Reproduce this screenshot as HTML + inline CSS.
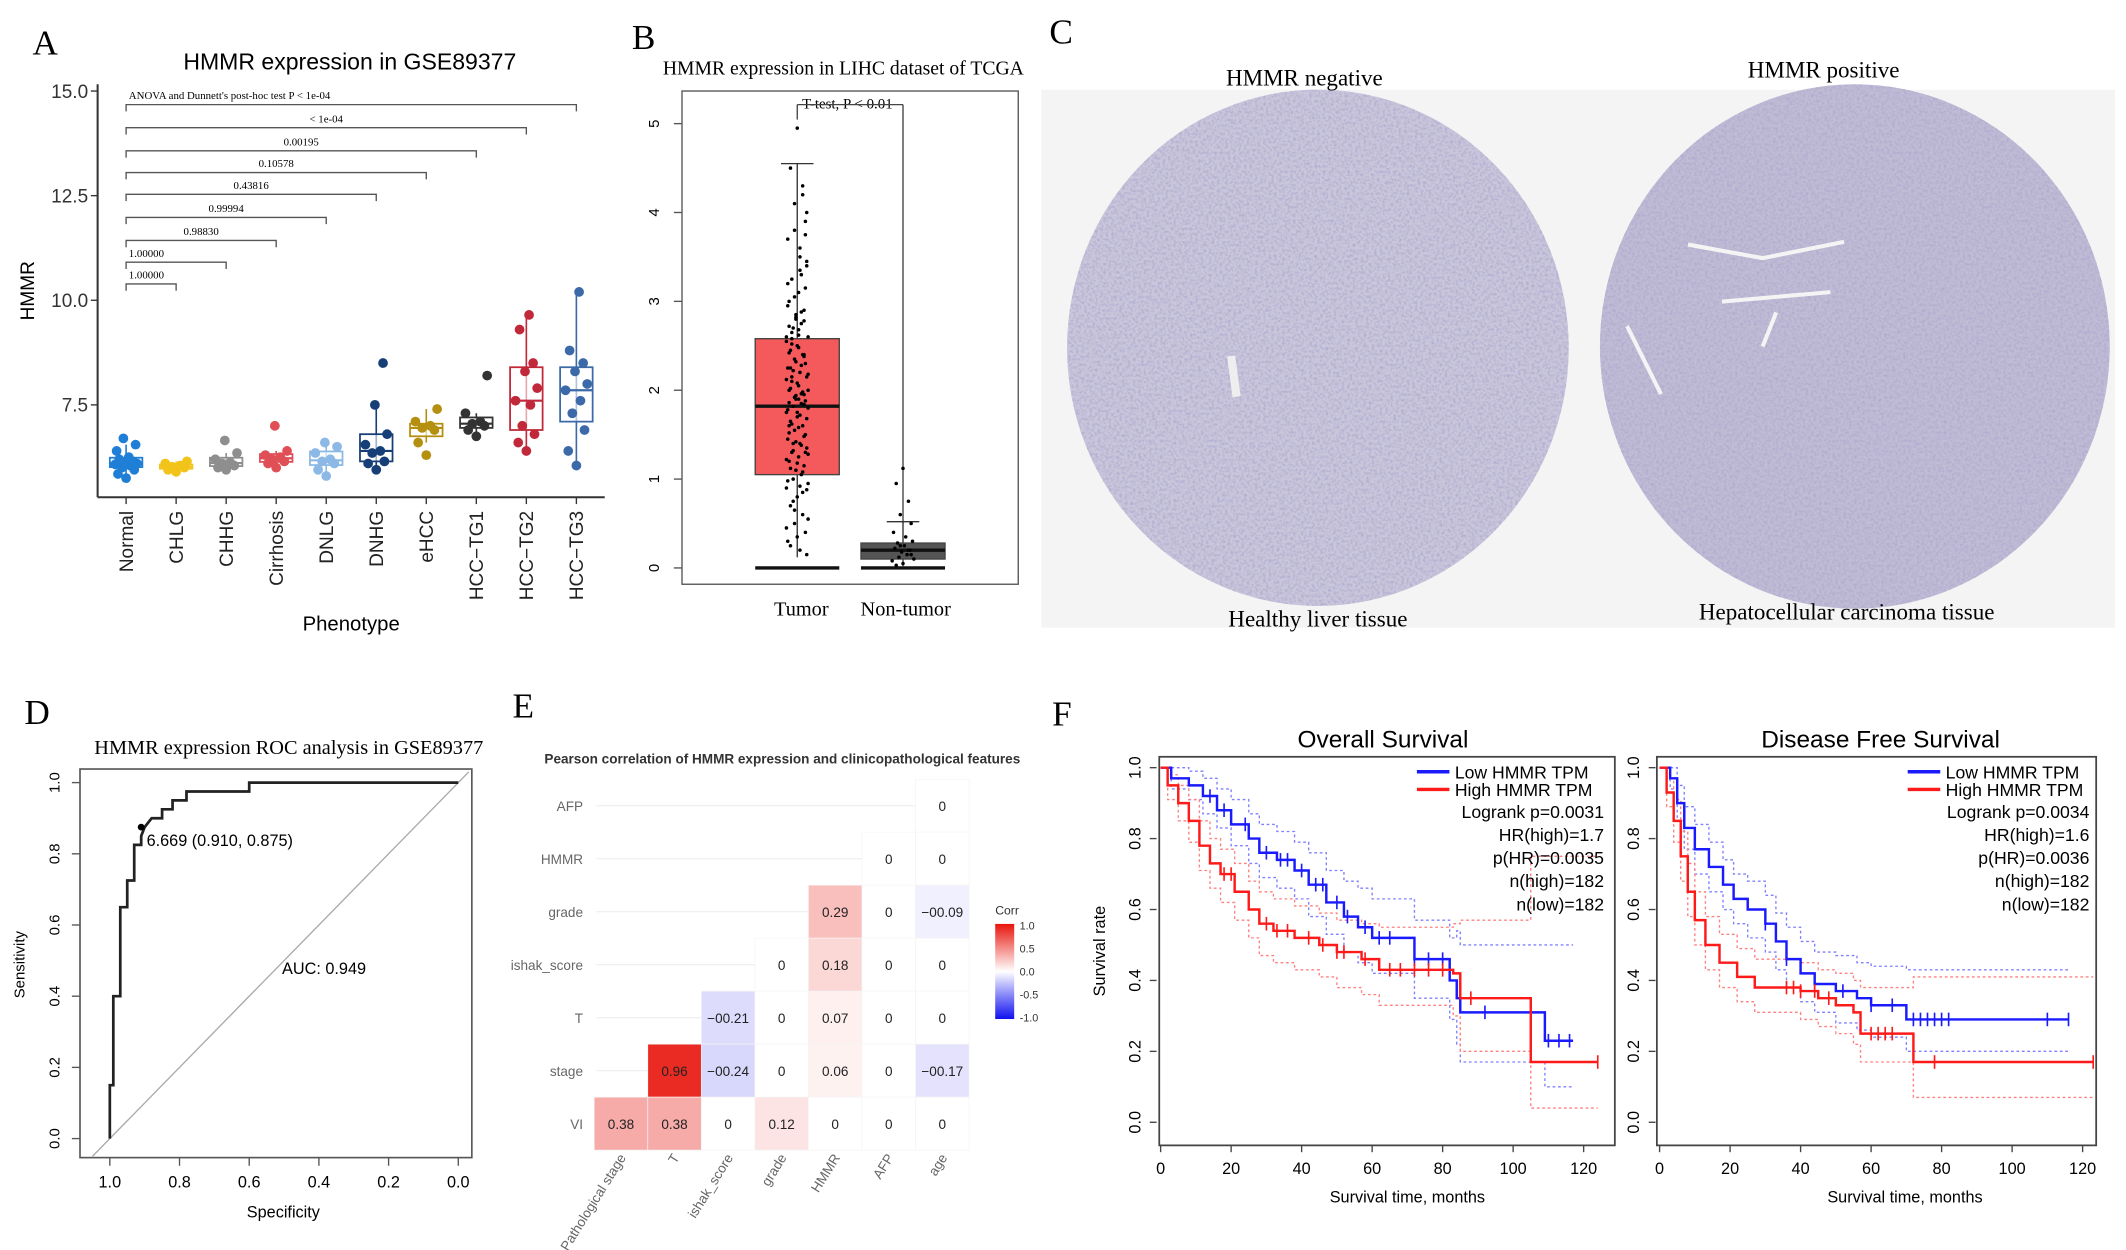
<!DOCTYPE html>
<html><head><meta charset="utf-8"><style>
html,body{margin:0;padding:0;background:#fff;}
svg{display:block;}
.s{font-family:"Liberation Sans",sans-serif;}
.r{font-family:"Liberation Serif",serif;}
</style></head><body>
<svg id="fig" width="2126" height="1250" viewBox="0 0 1568 920" preserveAspectRatio="none" xmlns="http://www.w3.org/2000/svg">
<defs>
<filter id="tex" x="0" y="0" width="100%" height="100%">
<feTurbulence type="fractalNoise" baseFrequency="0.5" numOctaves="2" seed="3"/>
<feColorMatrix type="matrix" values="0 0 0 0 0.42  0 0 0 0 0.40  0 0 0 0 0.62  0 0 0 -2.2 1.35"/>
</filter>
<clipPath id="c1"><ellipse cx="972" cy="256" rx="185" ry="190"/></clipPath>
<clipPath id="c2"><ellipse cx="1368" cy="255" rx="188" ry="193"/></clipPath>
<linearGradient id="cbar" x1="0" y1="0" x2="0" y2="1">
<stop offset="0" stop-color="#e8140c"/><stop offset="0.5" stop-color="#ffffff"/><stop offset="1" stop-color="#1010f0"/>
</linearGradient>
</defs>

<text class="r" x="24" y="40" font-size="26">A</text>
<text class="r" x="466" y="36" font-size="26">B</text>
<text class="r" x="774" y="32" font-size="26">C</text>
<text class="r" x="18" y="533" font-size="26">D</text>
<text class="r" x="378" y="528" font-size="26">E</text>
<text class="r" x="776" y="534" font-size="26">F</text>

<g id="pa">
<text class="s" x="258" y="51" font-size="17" text-anchor="middle">HMMR expression in GSE89377</text>
<line x1="72" y1="62" x2="72" y2="366" stroke="#333" stroke-width="1.5"/>
<line x1="72" y1="366" x2="446" y2="366" stroke="#333" stroke-width="1.5"/>
<text class="s" x="25" y="214" font-size="14" text-anchor="middle" transform="rotate(-90 25 214)">HMMR</text>
<text class="s" x="259" y="464" font-size="15" text-anchor="middle">Phenotype</text>
<text class="r" x="95" y="73" font-size="8">ANOVA and Dunnett's post-hoc test P  &lt; 1e-04</text>
</g>

<g id="pb">
<text class="r" x="622" y="55" font-size="14.5" text-anchor="middle">HMMR expression in LIHC dataset of TCGA</text>
<rect x="503" y="67" width="248" height="363" fill="none" stroke="#555" stroke-width="1"/>
<text class="r" x="625" y="80" font-size="11" text-anchor="middle">T-test, P &lt; 0.01</text>
<line x1="588" y1="77" x2="588" y2="88" stroke="#444"/>
<line x1="588" y1="77" x2="666" y2="77" stroke="#444"/>
<line x1="666" y1="77" x2="666" y2="385" stroke="#444"/>
<text class="r" x="591" y="453" font-size="15" text-anchor="middle">Tumor</text>
<text class="r" x="668" y="453" font-size="15" text-anchor="middle">Non-tumor</text>
</g>

<g id="pc">
<rect x="768" y="66" width="792" height="396" fill="#f4f4f4"/>
<ellipse cx="972" cy="256" rx="185" ry="190" fill="#cac7dc"/>
<rect x="787" y="66" width="370" height="380" filter="url(#tex)" clip-path="url(#c1)" opacity="0.9"/>
<ellipse cx="1368" cy="255" rx="188" ry="193" fill="#c0bcd5"/>
<rect x="1180" y="62" width="376" height="386" filter="url(#tex)" clip-path="url(#c2)" opacity="0.95"/>
<path d="M1245 180 L1300 190 L1360 178 M1270 222 L1350 215 M1200 240 L1225 290 M1310 230 L1300 255" stroke="#f4f4f4" stroke-width="3" fill="none"/>
<path d="M908 262 L912 292" stroke="#eee" stroke-width="6"/>
<text class="r" x="962" y="63" font-size="17" text-anchor="middle">HMMR negative</text>
<text class="r" x="1345" y="57" font-size="17" text-anchor="middle">HMMR positive</text>
<text class="r" x="972" y="461" font-size="17" text-anchor="middle">Healthy liver tissue</text>
<text class="r" x="1362" y="456" font-size="17" text-anchor="middle">Hepatocellular carcinoma tissue</text>
</g>

<g id="pd">
<text class="r" x="213" y="555" font-size="15" text-anchor="middle">HMMR expression ROC analysis in GSE89377</text>
<rect x="59" y="566" width="289" height="286" fill="none" stroke="#555" stroke-width="1.2"/>
<text class="s" x="18" y="710" font-size="11" text-anchor="middle" transform="rotate(-90 18 710)">Sensitivity</text>
<text class="s" x="209" y="896" font-size="12" text-anchor="middle">Specificity</text>
</g>

<g id="pe">
<text class="s" x="577" y="562" font-size="10" font-weight="bold" text-anchor="middle" fill="#333">Pearson correlation of HMMR expression and clinicopathological features</text>
<text class="s" x="734" y="673" font-size="9" fill="#333">Corr</text>
<rect x="734" y="680" width="14" height="70" fill="url(#cbar)"/>
</g>

<g id="pf">
<text class="s" x="1020" y="550" font-size="18" text-anchor="middle">Overall Survival</text>
<text class="s" x="1387" y="550" font-size="18" text-anchor="middle">Disease Free Survival</text>
<rect x="855" y="557" width="336" height="286" fill="none" stroke="#444" stroke-width="1.3"/>
<rect x="1222" y="557" width="324" height="286" fill="none" stroke="#444" stroke-width="1.3"/>
<text class="s" x="815" y="700" font-size="12" text-anchor="middle" transform="rotate(-90 815 700)">Survival rate</text>
<text class="s" x="1038" y="885" font-size="12" text-anchor="middle">Survival time, months</text>
<text class="s" x="1405" y="885" font-size="12" text-anchor="middle">Survival time, months</text>
</g>
</svg>

<script>
const NS='http://www.w3.org/2000/svg';
const svg=document.getElementById('fig');
function mk(tag,attrs,parent){const e=document.createElementNS(NS,tag);for(const k in attrs)e.setAttribute(k,attrs[k]);(parent||svg).appendChild(e);return e;}

// ---------- Panel A data ----------
const aCategories=['Normal','CHLG','CHHG','Cirrhosis','DNLG','DNHG','eHCC','HCC\u2212TG1','HCC\u2212TG2','HCC\u2212TG3'];
const aColors=['#1f7fd6','#f2c318','#8e8e8e','#df4f55','#8cb8e6','#173f77','#b48f10','#333333','#c1283a','#3c6aa8'];
const aNormal=[5.75,5.85,5.95,6.0,6.05,6.08,6.1,6.12,6.15,6.2,6.25,6.4,6.55,6.7];
const aCHLG=[5.9,5.95,6.0,6.02,6.05,6.1,6.15];
const aCHHG=[5.95,6.0,6.05,6.1,6.12,6.2,6.35,6.65];
const aCirrhosis=[6.0,6.1,6.15,6.2,6.25,6.3,6.4,7.0];
const aDNLG=[5.8,5.95,6.1,6.15,6.2,6.35,6.5,6.6];
const aDNHG=[5.95,6.1,6.15,6.35,6.4,6.55,6.8,7.5,8.5];
const aEHCC=[6.3,6.6,6.9,6.95,7.0,7.1,7.4];
const aTG1=[6.75,6.9,7.0,7.05,7.1,7.3,8.2];
const aTG2=[6.4,6.6,6.8,7.0,7.5,7.6,7.9,8.3,8.5,9.3,9.65];
const aTG3=[6.05,6.4,6.9,7.3,7.6,7.85,8.0,8.3,8.5,8.8,10.2];
const aGroups=[aNormal,aCHLG,aCHHG,aCirrhosis,aDNLG,aDNHG,aEHCC,aTG1,aTG2,aTG3];
const aYTicks=[7.5,10.0,12.5,15.0];
const aPvalues=['1.00000','1.00000','0.98830','0.99994','0.43816','0.10578','0.00195','< 1e-04'];

const yA=v=>298-(v-7.5)*30.8;
const xA=i=>93+i*36.9;
function q(arr,p){const s=[...arr].sort((a,b)=>a-b);const i=(s.length-1)*p;const lo=Math.floor(i),hi=Math.ceil(i);return s[lo]+(s[hi]-s[lo])*(i-lo);}
const pa=document.getElementById('pa');
aYTicks.forEach(t=>{
 const l=mk('line',{x1:67,x2:72,y1:yA(t),y2:yA(t),stroke:'#333'},pa);
 
 
 const tx=mk('text',{x:65,y:yA(t)+5,'font-size':14,'text-anchor':'end',class:'s',fill:'#333'},pa);tx.textContent=t.toFixed(1);
 
 
});
const jit=[0,-6,6,-3,3,-8,8,-1,5,-5,2,-7,7,-2];
aGroups.forEach((g,i)=>{
 const cx=xA(i),col=aColors[i];
 const q1=q(g,0.25),q2=q(g,0.5),q3=q(g,0.75),iqr=q3-q1;
 const lo=Math.min(...g.filter(v=>v>=q1-1.5*iqr)),hi=Math.max(...g.filter(v=>v<=q3+1.5*iqr));
 const t=mk('line',{x1:cx,x2:cx,y1:366,y2:371,stroke:'#333'},pa);
 
 
 const w=mk('line',{x1:cx,x2:cx,y1:yA(hi),y2:yA(lo),stroke:col,'stroke-width':1.2},pa);
 
 
 const b=mk('rect',{x:cx-12,y:yA(q3),width:24,height:Math.max(1,yA(q1)-yA(q3)),fill:'#fff','fill-opacity':0.6,stroke:col,'stroke-width':1.3},pa);
 
 
 const m=mk('line',{x1:cx-12,x2:cx+12,y1:yA(q2),y2:yA(q2),stroke:col,'stroke-width':1.6},pa);
 
 
 g.forEach((v,k)=>{
  const c=mk('circle',{cx:cx+jit[k%jit.length],cy:yA(v),r:3.6,fill:col},pa);
  
  
 });
 const lb=mk('text',{x:cx+5,y:376,'font-size':14,'text-anchor':'end',class:'s',fill:'#222',transform:`rotate(-90 ${cx+5} 376)`},pa);
 lb.textContent=aCategories[i];
 
 
});
const brY=[209,193,177,160,143,127,111,94,77];
for(let j=1;j<aCategories.length;j++){
 const y=brY[j-1],x2=xA(j);
 const p=mk('path',{d:`M93 ${y+5} V${y} H${x2} V${y+5}`,fill:'none',stroke:'#555','stroke-width':1},pa);
 
 
 if(j<=aPvalues.length){
  const tx=mk('text',{x:j<=2?95:(93+x2)/2,y:y-4,'font-size':8,class:'r','text-anchor':j<=2?'start':'middle'},pa);
  tx.textContent=aPvalues[j-1];
  
  
 }
}

// ---------- Panel B data ----------
const bTicks=[0,1,2,3,4,5];
const bTumorStats=[0.12,1.05,1.82,2.58,4.55];
const bNormalStats=[0.02,0.1,0.2,0.28,0.52];
const bTumorPts=[4.95,4.5,4.3,4.1,3.9,3.7,3.5,3.4,3.25,3.1,3.0,2.9,2.85,2.75,2.7,2.6,2.55,2.5,2.45,2.4,2.35,2.3,2.25,2.2,2.15,2.1,2.05,2.0,1.95,1.9,1.85,1.82,1.8,1.75,1.7,1.65,1.6,1.55,1.5,1.45,1.4,1.35,1.3,1.25,1.2,1.15,1.1,1.05,1.0,0.95,0.9,0.8,0.7,0.6,0.5,0.4,0.3,0.2,0.15,2.15,1.9,1.6,2.4,2.8,3.3,1.4,2.0,2.6,1.75,2.25,0.85,0.65,1.3,2.95,3.6,4.0,
 2.52,2.48,2.42,2.38,2.32,2.28,2.22,2.18,2.12,2.08,2.02,1.98,1.92,1.88,1.78,1.72,1.68,1.62,1.58,1.52,1.48,1.42,1.38,1.32,1.28,1.22,1.18,1.12,1.08,3.05,3.15,3.2,3.35,3.45,2.65,2.68,2.72,2.78,2.82,2.88,0.75,0.55,0.45,0.35,0.25,4.2,3.8,3.75,0.98,0.92,0.88,2.58,2.62,1.86,1.84,1.94,1.96];
const bNormalPts=[1.12,0.95,0.75,0.6,0.5,0.4,0.35,0.3,0.28,0.25,0.22,0.2,0.18,0.15,0.12,0.1,0.08,0.05,0.03,0.2,0.25,0.15];
const yB=v=>418-v*65.4;
const pb=document.getElementById('pb');
bTicks.forEach(t=>{
 const l=mk('line',{x1:497,x2:503,y1:yB(t),y2:yB(t),stroke:'#555'},pb);
 
 
 const tx=mk('text',{x:486,y:yB(t),'font-size':11,'text-anchor':'middle',class:'s',transform:`rotate(-90 486 ${yB(t)})`},pb);tx.textContent=t;
 
 
});
[[bTumorStats,588,'#f4595b','tumor'],[bNormalStats,666,'#555555','non-tumor']].forEach(([s,cx,col,nm])=>{
 const w=mk('line',{x1:cx,x2:cx,y1:yB(s[4]),y2:yB(s[0]),stroke:'#333'},pb);
 
 
 const c1=mk('line',{x1:cx-12,x2:cx+12,y1:yB(s[4]),y2:yB(s[4]),stroke:'#333'},pb);
 
 
 const r=mk('rect',{x:cx-31,y:yB(s[3]),width:62,height:yB(s[1])-yB(s[3]),fill:col,stroke:'#444'},pb);
 
 
 const m=mk('line',{x1:cx-31,x2:cx+31,y1:yB(s[2]),y2:yB(s[2]),stroke:'#111','stroke-width':2.5},pb);
 
 
 const z=mk('line',{x1:cx-31,x2:cx+31,y1:yB(0),y2:yB(0),stroke:'#111','stroke-width':2.5},pb);
 
 
});
const bj=[0,-5,4,-2,6,-7,2,7,-4,1,-6,5,-1,3,-3,8,-8];
bTumorPts.forEach((v,k)=>{const c=mk('circle',{cx:588+bj[k%17],cy:yB(v),r:1.3,fill:'#000'},pb);
 
 });
bNormalPts.forEach((v,k)=>{const c=mk('circle',{cx:666+bj[k%17],cy:yB(v),r:1.3,fill:'#000'},pb);
 
 });

// ---------- Panel D data ----------
const dSpec=[1,1,0.99,0.99,0.97,0.97,0.95,0.95,0.93,0.93,0.91,0.91,0.9,0.88,0.85,0.85,0.82,0.82,0.78,0.78,0.6,0.6,0];
const dSens=[0,0.15,0.15,0.4,0.4,0.65,0.65,0.725,0.725,0.825,0.825,0.85,0.875,0.9,0.9,0.925,0.925,0.95,0.95,0.975,0.975,1,1];
const dTicks=[0,0.2,0.4,0.6,0.8,1.0];
const xD=s=>81+(1-s)*257, yD=v=>838-v*262;
const pd=document.getElementById('pd');
dTicks.forEach(t=>{
 const l=mk('line',{x1:53,x2:59,y1:yD(t),y2:yD(t),stroke:'#555'},pd);
 
 
 const tx=mk('text',{x:44,y:yD(t),'font-size':11,'text-anchor':'middle',class:'s',transform:`rotate(-90 44 ${yD(t)})`},pd);tx.textContent=t.toFixed(1);
 
 
 const l2=mk('line',{x1:xD(t),x2:xD(t),y1:852,y2:858,stroke:'#555'},pd);
 
 
 const tx2=mk('text',{x:xD(t),y:874,'font-size':12,'text-anchor':'middle',class:'s'},pd);tx2.textContent=t.toFixed(1);
 
 
});
const diag=mk('line',{x1:xD(1.05),y1:yD(-0.05),x2:xD(-0.03),y2:yD(1.03),stroke:'#aaa','stroke-width':1},pd);


const roc=mk('polyline',{points:dSpec.map((s,i)=>xD(s)+','+yD(dSens[i])).join(' '),fill:'none',stroke:'#222','stroke-width':2},pd);


const cut=mk('circle',{cx:xD(0.91),cy:yD(0.875),r:2.5,fill:'#000'},pd);


const ct=mk('text',{x:xD(0.91)+4,y:yD(0.875)+14,'font-size':12,class:'s'},pd);ct.textContent='6.669 (0.910, 0.875)';


const auc=mk('text',{x:208,y:717,'font-size':12,class:'s'},pd);auc.textContent='AUC: 0.949';



// ---------- Panel E data ----------
const eCols=['Pathological stage','T','ishak_score','grade','HMMR','AFP','age'];
const eRows=['AFP','HMMR','grade','ishak_score','T','stage','VI'];
const eRowAFP=[null,null,null,null,null,null,0];
const eRowHMMR=[null,null,null,null,null,0,0];
const eRowGrade=[null,null,null,null,0.29,0,-0.09];
const eRowIshak=[null,null,null,0,0.18,0,0];
const eRowT=[null,null,-0.21,0,0.07,0,0];
const eRowStage=[null,0.96,-0.24,0,0.06,0,-0.17];
const eRowVI=[0.38,0.38,0,0.12,0,0,0];
const eValues=[eRowAFP,eRowHMMR,eRowGrade,eRowIshak,eRowT,eRowStage,eRowVI];
const eLegendTicks=[1.0,0.5,0.0,-0.5,-1.0];
const xE=j=>458+j*39.5, yE=i=>593+i*39;
function corrColor(v){
 const mix=(a,b,t)=>Math.round(a+(b-a)*t);
 if(v>=0){const t=v*0.95;return `rgb(${mix(255,232,t)},${mix(255,22,t)},${mix(255,14,t)})`;}
 const t=-v*0.75;return `rgb(${mix(255,40,t)},${mix(255,30,t)},${mix(255,240,t)})`;
}
const pe=document.getElementById('pe');
eRows.forEach((rn,i)=>{
 const gl=mk('line',{x1:440,x2:715,y1:yE(i),y2:yE(i),stroke:'#f0f0f0'},pe);
 
 
 const t=mk('text',{x:430,y:yE(i)+4,'font-size':10,'text-anchor':'end',class:'s',fill:'#666'},pe);t.textContent=rn;
 
 
 eValues[i].forEach((v,j)=>{
  if(v===null)return;
  const r=mk('rect',{x:xE(j)-19.75,y:yE(i)-19.5,width:39.5,height:39,fill:corrColor(v),stroke:'#f4f4f4','stroke-width':0.5},pe);
  
  
  const tx=mk('text',{x:xE(j),y:yE(i)+4,'font-size':10,'text-anchor':'middle',class:'s',fill:'#222'},pe);
  tx.textContent=v===0?'0':String(v).replace('-','\u22120');
  
  
 });
});
eCols.forEach((c,j)=>{
 const x=xE(j)+4,y=852;
 const t=mk('text',{x:x,y:y,'font-size':10,'text-anchor':'end',class:'s',fill:'#666',transform:`rotate(-58 ${x} ${y})`},pe);t.textContent=c;
 
 
});
eLegendTicks.forEach(v=>{
 const y=715-v*34;
 const t=mk('text',{x:752,y:y+3,'font-size':8,class:'s',fill:'#333'},pe);t.textContent=v.toFixed(1);
 
 
});

// ---------- Panel F data ----------
const fTicksX=[0,20,40,60,80,100,120];
const fTicksY=[0,0.2,0.4,0.6,0.8,1.0];
const osLowT=[0,3,8,12,16,20,25,28,33,38,42,47,52,56,60,72,82,84,85,109,117];
const osLowS=[1,0.97,0.95,0.92,0.88,0.84,0.8,0.76,0.74,0.71,0.67,0.62,0.58,0.55,0.52,0.46,0.4,0.35,0.31,0.23,0.23];
const osLowUp=[1,1,0.99,0.97,0.94,0.91,0.87,0.84,0.82,0.79,0.76,0.71,0.68,0.66,0.63,0.57,0.52,0.54,0.5,0.5,0.5];
const osLowLo=[1,0.94,0.91,0.87,0.83,0.78,0.73,0.69,0.66,0.63,0.58,0.53,0.48,0.45,0.42,0.35,0.29,0.22,0.17,0.1,0.1];
const osHighT=[0,2,5,8,11,14,17,21,25,28,32,38,45,50,57,62,83,85,105,124];
const osHighS=[1,0.95,0.9,0.85,0.78,0.73,0.7,0.65,0.6,0.56,0.54,0.52,0.5,0.48,0.46,0.43,0.42,0.35,0.17,0.17];
const osHighUp=[1,0.98,0.95,0.91,0.85,0.8,0.77,0.73,0.68,0.65,0.63,0.61,0.59,0.57,0.56,0.55,0.56,0.57,0.75,0.75];
const osHighLo=[1,0.91,0.85,0.79,0.71,0.66,0.62,0.57,0.52,0.47,0.45,0.43,0.41,0.38,0.36,0.33,0.3,0.2,0.04,0.04];
const osLowCens=[14,18,24,30,34,36,40,44,46,50,53,58,62,65,72,76,80,92,110,113,116];
const osHighCens=[18,20,30,33,36,42,46,50,52,58,65,68,72,76,80,88,124];
const dfsLowT=[0,3,5,7,10,14,18,21,25,30,33,36,40,44,50,56,60,70,116];
const dfsLowS=[1,0.97,0.9,0.83,0.77,0.72,0.67,0.63,0.6,0.56,0.51,0.46,0.42,0.39,0.37,0.35,0.33,0.29,0.29];
const dfsLowUp=[1,1,0.95,0.89,0.84,0.79,0.74,0.7,0.68,0.64,0.59,0.55,0.51,0.48,0.47,0.45,0.44,0.43,0.43];
const dfsLowLo=[1,0.94,0.85,0.77,0.7,0.65,0.6,0.56,0.52,0.48,0.43,0.38,0.34,0.31,0.28,0.26,0.24,0.2,0.2];
const dfsHighT=[0,2,4,6,8,10,13,17,22,27,40,45,50,55,57,72,123];
const dfsHighS=[1,0.93,0.85,0.75,0.65,0.57,0.5,0.45,0.41,0.38,0.37,0.35,0.33,0.31,0.25,0.17,0.17];
const dfsHighUp=[1,0.97,0.91,0.82,0.73,0.65,0.58,0.53,0.49,0.46,0.45,0.43,0.42,0.4,0.38,0.41,0.41];
const dfsHighLo=[1,0.89,0.79,0.68,0.58,0.5,0.43,0.38,0.34,0.31,0.29,0.27,0.25,0.22,0.17,0.07,0.07];
const dfsLowCens=[30,36,44,52,60,66,72,74,76,78,80,82,110,116];
const dfsHighCens=[36,38,40,44,48,60,62,64,66,78,123];
const pf=document.getElementById('pf');
const yF=s=>826-s*261;
function stepAt(T,S,t){let v=S[0];for(let i=0;i<T.length;i++){if(T[i]<=t)v=S[i];}return v;}
function stepPath(T,S,x0){let d=`M${x0+T[0]*2.6} ${yF(S[0])}`;for(let i=1;i<T.length;i++){d+=` H${x0+T[i]*2.6} V${yF(S[i])}`;}return d;}
[['os',856,osLowT,osLowS,osLowUp,osLowLo,osHighT,osHighS,osHighUp,osHighLo,osLowCens,osHighCens,['Logrank p=0.0031','HR(high)=1.7','p(HR)=0.0035','n(high)=182','n(low)=182'],1183,1045],
 ['dfs',1224,dfsLowT,dfsLowS,dfsLowUp,dfsLowLo,dfsHighT,dfsHighS,dfsHighUp,dfsHighLo,dfsLowCens,dfsHighCens,['Logrank p=0.0034','HR(high)=1.6','p(HR)=0.0036','n(high)=182','n(low)=182'],1541,1407]
].forEach(([nm,x0,lT,lS,lU,lL,hT,hS,hU,hL,lC,hC,stats,rx,lx])=>{
 fTicksX.forEach(t=>{
  const l=mk('line',{x1:x0+t*2.6,x2:x0+t*2.6,y1:843,y2:848,stroke:'#444'},pf);
  
  
  const tx=mk('text',{x:x0+t*2.6,y:864,'font-size':12,'text-anchor':'middle',class:'s'},pf);tx.textContent=t;
  
  
 });
 fTicksY.forEach(t=>{
  const fx=x0-3;
  const l=mk('line',{x1:fx-5,x2:fx,y1:yF(t),y2:yF(t),stroke:'#444'},pf);
  
  
  const lx2=fx-12;
  const tx=mk('text',{x:lx2,y:yF(t),'font-size':12,'text-anchor':'middle',class:'s',transform:`rotate(-90 ${lx2} ${yF(t)})`},pf);tx.textContent=t.toFixed(1);
  
  
 });
 [[lU,lT,'#8080ff','low-ci-upper'],[lL,lT,'#8080ff','low-ci-lower'],[hU,hT,'#ff8080','high-ci-upper'],[hL,hT,'#ff8080','high-ci-lower']].forEach(([S,T,c,n])=>{
  const p=mk('path',{d:stepPath(T,S,x0),fill:'none',stroke:c,'stroke-width':1,'stroke-dasharray':'2 2'},pf);
  
  
 });
 [[lT,lS,'#1a1aff','low-hmmr-curve',lC],[hT,hS,'#ff1a1a','high-hmmr-curve',hC]].forEach(([T,S,c,n,C])=>{
  const p=mk('path',{d:stepPath(T,S,x0),fill:'none',stroke:c,'stroke-width':1.8},pf);
  
  
  C.forEach(t=>{const y=yF(stepAt(T,S,t));
   const m=mk('line',{x1:x0+t*2.6,x2:x0+t*2.6,y1:y-5,y2:y+5,stroke:c,'stroke-width':1.2},pf);
   
   });
 });
 [['Low HMMR TPM','#1a1aff',568],['High HMMR TPM','#ff1a1a',581]].forEach(([t,c,y])=>{
  const l=mk('line',{x1:lx,x2:lx+24,y1:y,y2:y,stroke:c,'stroke-width':2.5},pf);
  
  
  const tx=mk('text',{x:lx+28,y:y+5,'font-size':13,class:'s'},pf);tx.textContent=t;
  
  
 });
 stats.forEach((s,i)=>{
  const tx=mk('text',{x:rx,y:602+i*17,'font-size':13,'text-anchor':'end',class:'s'},pf);tx.textContent=s;
  
  
 });
});
</script>
</body></html>
